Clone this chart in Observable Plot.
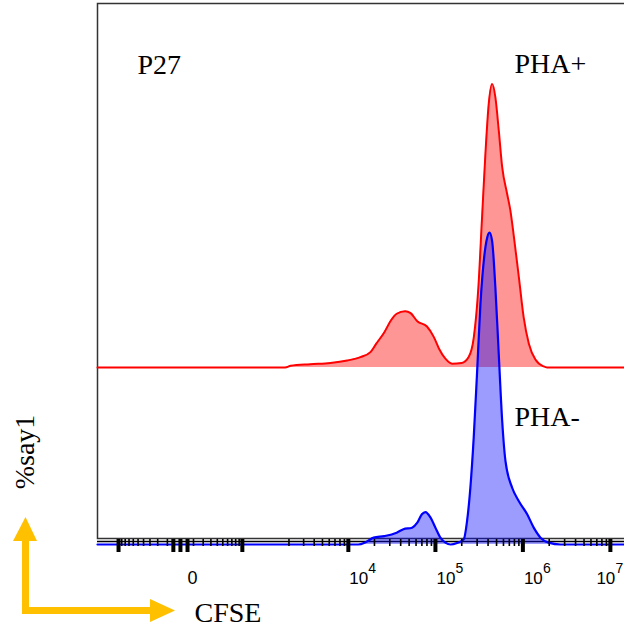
<!DOCTYPE html>
<html><head><meta charset="utf-8">
<script src="https://cdn.jsdelivr.net/npm/d3@7"></script>
<script src="https://cdn.jsdelivr.net/npm/@observablehq/plot@0.6"></script>
<style>body{margin:0;background:#fff;} #chart svg{display:block}</style>
</head><body><div id="chart"></div>
<script>
// PHA+ (red) histogram: CFSE intensity vs % count
const redCfse = [-960, 1800, 2100, 3600, 6200, 9700, 13800, 18000, 21000, 26000, 31000, 36000, 45000, 52000, 62000, 80000, 96000, 110000, 130000, 155000, 200000, 240000, 275000, 310000, 340000, 373000, 407000, 445000, 485000, 530000, 580000, 660000, 720000, 790000, 900000, 1020000, 1170000, 1390000, 1730000, 1890000, 14500000];
const redCount = [0, 0, 0.5, 1.0, 1.4, 2.2, 3.3, 4.9, 7.6, 11.3, 15.1, 17.2, 18.0, 17.4, 14.8, 13.1, 9.7, 6.0, 2.8, 1.2, 1.4, 3.3, 9.7, 25.7, 47.1, 68.5, 84.5, 90.9, 86.6, 76.0, 64.2, 55.7, 50.3, 41.8, 28.9, 16.1, 7.6, 2.5, 0.3, 0, 0];
// PHA- (blue) histogram
const blueCfse = [-960, 13000, 16000, 19600, 26000, 36000, 43000, 54000, 62000, 70000, 77000, 88000, 100000, 114000, 130000, 149000, 177000, 211000, 230000, 251000, 274000, 300000, 327000, 357000, 390000, 415000, 445000, 485000, 530000, 580000, 632000, 754000, 900000, 1120000, 1330000, 1590000, 1970000, 2690000, 14500000];
const blueCount = [0, 0, 0.8, 2.2, 2.7, 3.8, 4.9, 5.4, 7.0, 9.7, 10.4, 8.6, 5.4, 2.2, 0.6, 0, 0.5, 1.7, 7.5, 18.2, 34.2, 55.6, 77.0, 90.9, 98.3, 100, 97.3, 82.3, 61.0, 39.6, 26.8, 18.2, 13.9, 9.7, 5.4, 2.2, 0.6, 0, 0];
const redOffset = 56.8; // staggered overlay offset (% units)

const majorTicks = [-500, -25, 0, 25, 500, 1e4, 1e5, 1e6, 1e7];
const linearMinor = [-450, -400, -350, -300, -250, -200, -150, -100, -50, 50, 100, 150, 200, 250, 300, 350, 400, 450];
const logMinor = [1e3, 1e4, 1e5, 1e6].flatMap(p => [2, 3, 4, 5, 6, 7, 8, 9].map(m => m * p));
const minorTicks = [...linearMinor, ...logMinor];
const zeroLabel = [0];
const decadeTicks = [1e4, 1e5, 1e6];
const decadeExp = ["4", "5", "6"];
const edgeTick = [1e7];
const edgeExp = ["7"];
const seriesNames = ["PHA+", "PHA-"];
const panelName = "P27";
const xLabel = "CFSE";
const yLabel = "%say1";

const red = redCfse.map((x, i) => ({x, y: redCount[i]}));
const blue = blueCfse.map((x, i) => ({x, y: blueCount[i]}));

const serif = "Liberation Serif, Times New Roman, serif";
const sans = "Liberation Sans, Arial, sans-serif";
const tickText = {frameAnchor: "bottom", lineAnchor: "bottom", textAnchor: "start", fill: "#000"};

const svg = Plot.plot({
  width: 624, height: 633,
  marginLeft: 97, marginRight: 0, marginTop: 3, marginBottom: 89,
  style: {fontFamily: sans, background: "#fff"},
  x: {type: "symlog", constant: 122, domain: [-960, 14500000], axis: null},
  y: {domain: [0, 173.5], axis: null},
  marks: [
    Plot.frame({stroke: "#333", strokeWidth: 1.5, insetBottom: 6, insetRight: -4}),
    Plot.ruleY([0], {stroke: "#000", strokeWidth: 1.5, dy: -3}),
    Plot.areaY(red, {x: "x", y1: () => redOffset, y2: d => redOffset + d.y, fill: "#ff0000", fillOpacity: 0.41, curve: "monotone-x"}),
    Plot.line(red, {x: "x", y: d => redOffset + d.y, stroke: "#ff0000", strokeWidth: 2, curve: "monotone-x"}),
    Plot.areaY(blue, {x: "x", y1: 0, y2: "y", fill: "#0000ff", fillOpacity: 0.39, curve: "monotone-x"}),
    Plot.line(blue, {x: "x", y: "y", stroke: "#0000ff", strokeWidth: 2.2, curve: "monotone-x"}),
    Plot.axisX(minorTicks, {anchor: "bottom", tickSize: 7, strokeWidth: 1.6, dy: -5, tickFormat: () => "", label: null, stroke: "#000"}),
    Plot.axisX(majorTicks, {anchor: "bottom", tickSize: 13, strokeWidth: 4, dy: -5, tickFormat: () => "", label: null, stroke: "#000"}),
    Plot.text(zeroLabel, {...tickText, x: d => d, text: () => "0", dx: 12, dy: 39, textAnchor: "middle", fontSize: 18}),
    Plot.text(decadeTicks, {...tickText, x: d => d, text: () => "10", dx: 1, dy: 39, fontSize: 17}),
    Plot.text(decadeTicks, {...tickText, x: d => d, text: (d, i) => decadeExp[i], dx: 20, dy: 28, fontSize: 14}),
    Plot.text(edgeTick, {...tickText, x: d => d, text: () => "10", dx: -14, dy: 39, fontSize: 17}),
    Plot.text(edgeTick, {...tickText, x: d => d, text: (d, i) => edgeExp[i], dx: 5, dy: 28, fontSize: 14}),
    Plot.text([panelName], {text: d => d, frameAnchor: "top-left", dx: 40, dy: 70, lineAnchor: "bottom", textAnchor: "start", fontSize: 28, fontFamily: serif, fill: "#000"}),
    Plot.text([seriesNames[0]], {text: d => d, frameAnchor: "top-right", dx: -110, dy: 69, lineAnchor: "bottom", textAnchor: "start", fontSize: 28, fontFamily: serif, fill: "#000"}),
    Plot.text([seriesNames[1]], {text: d => d, frameAnchor: "top-right", dx: -110, dy: 422, lineAnchor: "bottom", textAnchor: "start", fontSize: 28, fontFamily: serif, fill: "#000"}),
    Plot.text([xLabel], {text: d => d, frameAnchor: "bottom-left", dx: 97, dy: 77, lineAnchor: "bottom", textAnchor: "start", fontSize: 28, fontFamily: serif, fill: "#000"}),
    Plot.text([yLabel], {text: d => d, frameAnchor: "left", dx: -64, dy: 178, rotate: -90, lineAnchor: "bottom", textAnchor: "middle", fontSize: 28, fontFamily: serif, fill: "#000"})
  ]
});

// decorative orange L-arrow (axis direction indicator)
const g = d3.select(svg).append("g").attr("fill", "#FFC000");
g.append("rect").attr("x", 22).attr("y", 540).attr("width", 7).attr("height", 74);
g.append("polygon").attr("points", "13,541 37,541 25.5,517");
g.append("rect").attr("x", 22).attr("y", 607).attr("width", 129).attr("height", 7);
g.append("polygon").attr("points", "150,599 150,622 175,610.5");

document.getElementById("chart").append(svg);
</script>
</body></html>
